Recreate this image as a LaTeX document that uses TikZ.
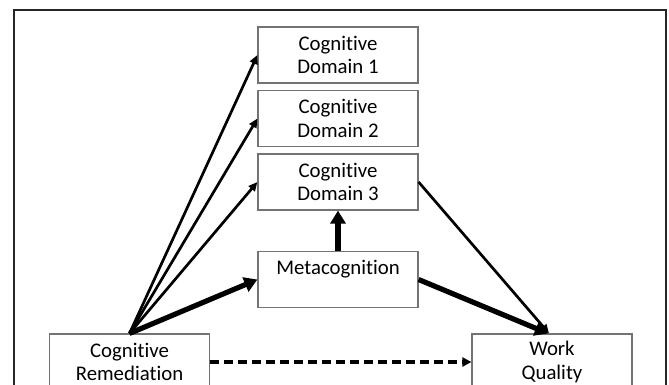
\documentclass[tikz,border=0pt]{standalone}
\usepackage{fontspec}
\setmainfont[Ligatures=NoCommon]{Carlito}
\usetikzlibrary{arrows.meta}

\tikzstyle{block} = [rectangle, draw=black!55, line width=1.2pt, minimum width=160pt, minimum height=56pt, inner sep=0pt, align=center, font=\fontsize{20.8}{23.5}\selectfont]
\tikzstyle{arrow} = [line width=2.7pt, -{Triangle[length=9pt,width=8pt]}]
\tikzstyle{boldarrow} = [line width=5.2pt, -{Triangle[length=13pt,width=15pt]}]
\tikzstyle{dasharrow} = [line width=3.2pt, dash pattern=on 9pt off 5pt, -{Triangle[length=9pt,width=9pt]}]

\begin{document}
\begin{tikzpicture}[x=1pt, y=-1pt]

\useasboundingbox (0,0) rectangle (669,384);
\clip (0,0) rectangle (669,384);
\fill[white] (0,0) rectangle (669,384);

% Frame
\draw[line width=1.5pt, black!85] (14,10) rectangle (666,420);

% Nodes
\node (dom1) [block] at (338,55) {Cognitive\\Domain 1};
\node (dom2) [block] at (338,118.5) {Cognitive\\Domain 2};
\node (dom3) [block] at (338,182) {Cognitive\\Domain 3};
\node (meta) [block] at (338,279.5) {Metacognition\\\phantom{X}};
\node (remed) [block] at (129.5,362) {Cognitive\\Remediation};
\node (work) [block] at (552,362) {Work\\Quality};

% Arrows
\draw [arrow] (remed.north) -- (dom1.west);
\draw [arrow] (remed.north) -- (dom2.west);
\draw [arrow] (remed.north) -- (dom3.west);
\draw [boldarrow] (remed.north) -- (meta.west);
\draw [boldarrow] (meta.north) -- (dom3.south);
\draw [boldarrow] (meta.east) -- ([xshift=-4pt]work.north);
\draw [arrow] (dom3.east) -- ([xshift=-3pt]work.north);

% Direct path
\draw [dasharrow] (remed.east) -- (work.west);

\end{tikzpicture}
\end{document}
